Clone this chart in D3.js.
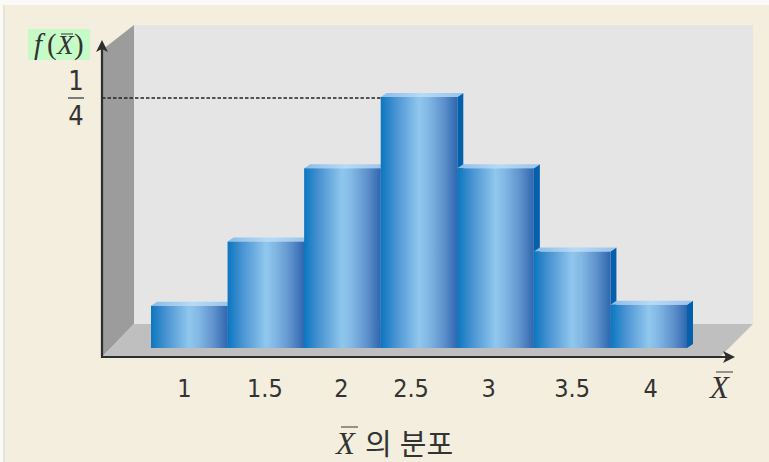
<!DOCTYPE html>
<html lang="ko">
<head>
<meta charset="utf-8">
<style>
html,body{margin:0;padding:0;background:#f3eedd;}
svg{display:block;}
</style>
<script src="https://cdn.jsdelivr.net/npm/d3@7"></script>
</head>
<body>
<svg id="chart" width="769" height="462"></svg>
<script>
// Sampling distribution of the mean, drawn as a 3D-style histogram.
const categories = ["1", "1.5", "2", "2.5", "3", "3.5", "4"];
const probabilities = [0.042, 0.106, 0.179, 0.25, 0.179, 0.096, 0.043];
const axisTitle = "의 분포";
const peakNumerator = "1";
const peakDenominator = "4";

const W = 769, H = 462;
const svg = d3.select("#chart");

const x = d3.scaleBand().domain(categories).range([151, 687]).padding(0);
const y = d3.scaleLinear().domain([0, 0.25]).range([348, 97]);

const wall = { left: 134, right: 753, top: 25, floor: 324 };
const axisO = { x: 102, y: 357 };
const depth = { dx: 6, dy: -4 };

const defs = svg.append("defs");
const grad = defs.append("linearGradient").attr("id", "barFace")
  .attr("x1", 0).attr("x2", 1).attr("y1", 0).attr("y2", 0);
[[0, "#0b76c0"], [0.2, "#4a94d2"], [0.5, "#90c7ee"], [0.62, "#82b8e4"], [0.82, "#5f92cc"], [1, "#2f66af"]]
  .forEach(([o, c]) => grad.append("stop").attr("offset", o).attr("stop-color", c));
const topGrad = defs.append("linearGradient").attr("id", "barTop")
  .attr("x1", 0).attr("x2", 1).attr("y1", 0).attr("y2", 0);
[[0, "#8abbe9"], [0.5, "#b8daf5"], [1, "#98c3ec"]]
  .forEach(([o, c]) => topGrad.append("stop").attr("offset", o).attr("stop-color", c));

const line = d3.line();

// Page edge strips
svg.append("rect").attr("width", W).attr("height", 5).attr("fill", "#fbfaf6");
svg.append("rect").attr("y", 0).attr("width", 3).attr("height", H).attr("fill", "#fbfaf6");
svg.append("rect").attr("x", 3).attr("y", 5).attr("width", 2).attr("height", H - 5).attr("fill", "#e6e3d8");

// Room: back wall, side wall, floor
svg.append("rect").attr("x", wall.left).attr("y", wall.top)
  .attr("width", wall.right - wall.left).attr("height", wall.floor - wall.top).attr("fill", "#e5e5e5");
svg.append("path").attr("fill", "#9c9c9c")
  .attr("d", line([[axisO.x, 50], [wall.left, wall.top], [wall.left, wall.floor], [axisO.x, axisO.y]]) + "Z");
svg.append("path").attr("fill", "#bfbfbf")
  .attr("d", line([[axisO.x, axisO.y], [wall.left, wall.floor], [wall.right, wall.floor], [720, axisO.y]]) + "Z");

// Bars: right side and top faces first, then the front face
const bars = svg.append("g").selectAll("g")
  .data(categories.map((c, i) => ({ c, p: probabilities[i] })))
  .join("g");

bars.append("path").attr("fill", "#0560ab").attr("d", d => {
  const r = x(d.c) + x.bandwidth(), t = y(d.p), b = y(0);
  return line([[r, t], [r + depth.dx, t + depth.dy], [r + depth.dx, b + depth.dy], [r, b]]) + "Z";
});
bars.append("path").attr("fill", "url(#barTop)").attr("d", d => {
  const l = x(d.c), r = l + x.bandwidth(), t = y(d.p);
  return line([[l, t], [l + depth.dx, t + depth.dy], [r + depth.dx, t + depth.dy], [r, t]]) + "Z";
});
bars.append("rect")
  .attr("x", d => x(d.c)).attr("y", d => y(d.p))
  .attr("width", x.bandwidth()).attr("height", d => y(0) - y(d.p))
  .attr("fill", "url(#barFace)");

// Guide from the vertical axis to the tallest bar
svg.append("line")
  .attr("x1", axisO.x).attr("x2", x("2.5"))
  .attr("y1", y(0.25) + 1).attr("y2", y(0.25) + 1)
  .attr("stroke", "#222").attr("stroke-width", 1.4).attr("stroke-dasharray", "3.5 2");

// Axis lines with arrowheads
const axisColor = "#2e2e2e";
svg.append("path").attr("fill", "none").attr("stroke", axisColor).attr("stroke-width", 2.2)
  .attr("d", line([[axisO.x, 48], [axisO.x, axisO.y], [726, axisO.y]]));
svg.append("path").attr("fill", axisColor)
  .attr("d", line([[axisO.x, 40], [axisO.x + 6, 52], [axisO.x, 49], [axisO.x - 6, 52]]) + "Z");
svg.append("path").attr("fill", axisColor)
  .attr("d", line([[735, axisO.y], [723, axisO.y - 6], [726, axisO.y], [723, axisO.y + 6]]) + "Z");

// Category labels along the bottom
const digitFont = "'DejaVu Sans Condensed', 'DejaVu Sans', sans-serif";
const tickNudge = { "1": -5, "1.5": -1, "2": -1, "2.5": -8, "3": -7, "3.5": 0, "4": 2 };
const xAxis = d3.axisBottom(x).tickSize(0).tickPadding(0);
const gx = svg.append("g").attr("transform", "translate(0,397)").call(xAxis);
gx.select(".domain").remove();
gx.selectAll(".tick text")
  .attr("dy", 0).attr("y", 0)
  .attr("dx", d => tickNudge[d])
  .attr("font-family", digitFont).attr("font-stretch", "condensed")
  .attr("font-size", 25).attr("fill", "#333");

const serif = "'Liberation Serif', serif";

// Helper for an italic letter with an overbar
function barred(g, px, py, size, barY, barX0, barX1) {
  g.append("text").attr("x", px).attr("y", py)
    .attr("font-family", serif).attr("font-style", "italic")
    .attr("font-size", size).attr("fill", "#333").text("X");
  g.append("line").attr("x1", barX0).attr("x2", barX1).attr("y1", barY).attr("y2", barY)
    .attr("stroke", "#555").attr("stroke-width", 1.2);
}

// Vertical axis caption on a green patch
svg.append("rect").attr("x", 28).attr("y", 29).attr("width", 62).attr("height", 31).attr("fill", "#c6fbc8");
const yCap = svg.append("g");
yCap.append("text").attr("x", 34).attr("y", 54)
  .attr("font-family", serif).attr("font-style", "italic").attr("font-size", 29).attr("fill", "#333").text("f");
yCap.append("text").attr("x", 47).attr("y", 54)
  .attr("font-family", serif).attr("font-size", 29).attr("fill", "#333").text("(");
barred(yCap, 57, 54, 27, 34, 61, 73);
yCap.append("text").attr("x", 74).attr("y", 54)
  .attr("font-family", serif).attr("font-size", 29).attr("fill", "#333").text(")");

// Peak value as a stacked fraction
const frac = svg.append("g").attr("font-family", digitFont).attr("font-stretch", "condensed")
  .attr("font-size", 27).attr("fill", "#333").attr("text-anchor", "middle");
frac.append("text").attr("x", 76).attr("y", 90).text(peakNumerator);
frac.append("line").attr("x1", 68).attr("x2", 84).attr("y1", 98).attr("y2", 98)
  .attr("stroke", "#555").attr("stroke-width", 1.5);
frac.append("text").attr("x", 76).attr("y", 125).text(peakDenominator);

// Horizontal axis symbol at the arrow tip
barred(svg.append("g"), 710, 398, 31, 372, 716, 733);

// Chart caption
barred(svg.append("g"), 336, 454, 31, 427, 341, 358);
svg.append("text").attr("x", 365).attr("y", 455)
  .attr("font-family", "'Noto Sans CJK KR', sans-serif")
  .attr("font-size", 29).attr("fill", "#333").text(axisTitle);
</script>
</body>
</html>
